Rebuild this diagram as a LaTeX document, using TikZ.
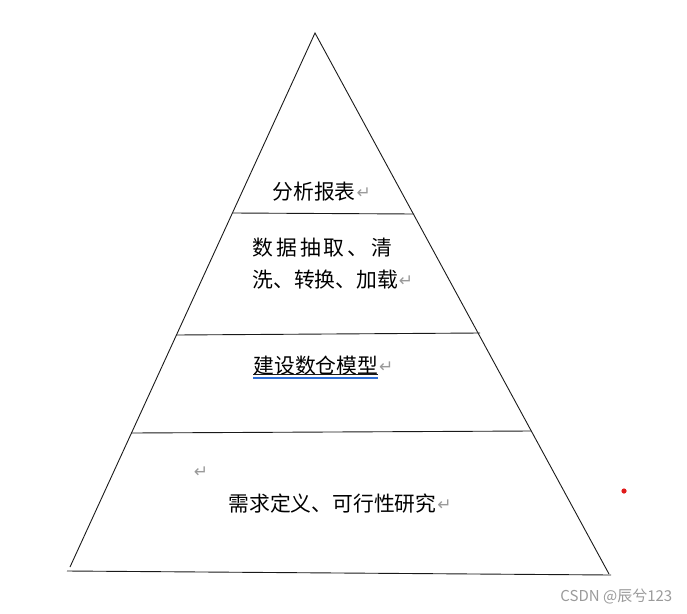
\documentclass[tikz,border=0pt]{standalone}
\usepackage{fontspec}
\setmainfont{Noto Sans CJK SC}
\newfontfamily\symfont{DejaVu Sans}
\usetikzlibrary{positioning}
\definecolor{cline}{HTML}{1A1A1A}
\definecolor{cret}{HTML}{9A9A9A}
\definecolor{cwave}{HTML}{2F6FD6}
\definecolor{cdot}{HTML}{E01B1B}
\tikzset{
  every picture/.style={x=1pt, y=-1pt, line width=0.9pt},
  tier/.style={draw=cline},
  lbl/.style={inner sep=0pt, anchor=west, font=\fontsize{20.8}{24}\selectfont},
  retmark/.style={inner sep=0pt, text=cret, font=\symfont\fontsize{17}{18}\selectfont},
  wmark/.style={inner sep=0pt, text=cret, font=\fontsize{15}{17}\selectfont},
}

\begin{document}
\begin{tikzpicture}
  \useasboundingbox (0,0) rectangle (687,613);
  % pyramid outline
  \coordinate (apex) at (315,33);
  \coordinate (bl) at (70,567);
  \coordinate (br) at (609,574);
  \draw[tier] (bl) -- (apex) -- (br);
  \draw[tier] (67,571) -- (611,575);
  % tier separators
  \draw[tier] (233,213) -- (414,214);
  \draw[tier] (176,335) -- (480,333);
  \draw[tier] (131,433) -- (531,431);
  % labels
  \node[lbl] (report) at (272,192) {分析报表};
  \node[retmark, right=0pt of report, yshift=-1pt] (r1) {↵};
  \node[lbl] (etla) at (252,248) {\makebox[140pt][s]{数\hfil 据\hfil 抽\hfil 取\hfil 、\hfil 清}};
  \node[lbl] (etlb) at (252,280) {洗、转换、加载};
  \node[retmark, right=0pt of etlb, yshift=-1pt] (r2) {↵};
  \node[lbl] (model) at (253,366) {建设数仓模型};
  \node[retmark, right=0pt of model, yshift=-1pt] (r3) {↵};
  \draw[cline, line width=0.6pt] (253,374) -- (378,374);
  \draw[cwave, line width=1.4pt] (253,378) -- (378,378);
  \node[retmark] (r4) at (201,472) {↵};
  \node[lbl] (need) at (228,504) {需求定义、可行性研究};
  \node[retmark, right=0pt of need, yshift=-1pt] (r5) {↵};
  % red dot and watermark
  \fill[cdot] (624,491) circle (2.6);
  \node[wmark, anchor=west] (wm) at (560,597) {CSDN @辰兮123};
\end{tikzpicture}
\end{document}
